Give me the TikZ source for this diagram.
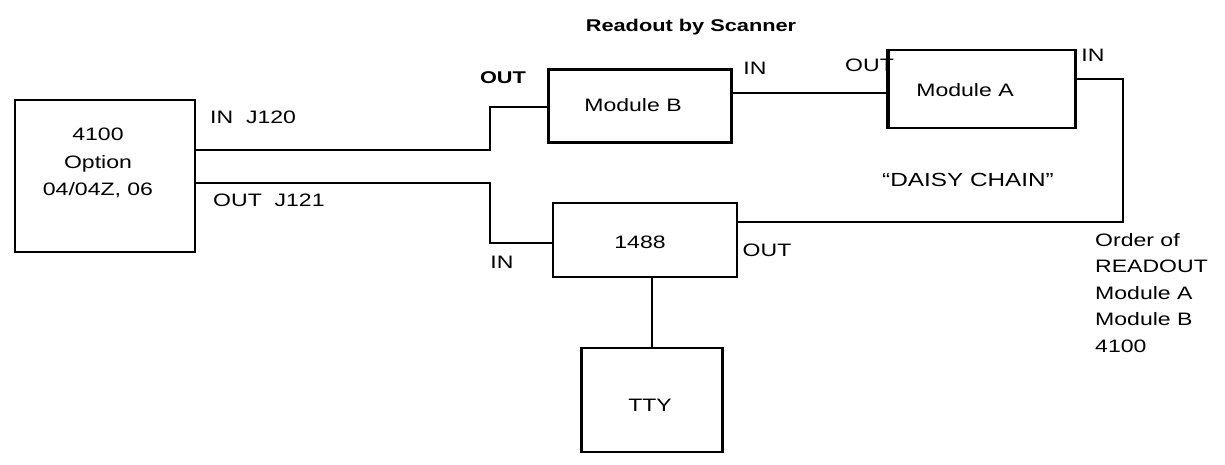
\documentclass[tikz,border=0pt]{standalone}
\usepackage{fontspec}
\setmainfont{Liberation Sans}[FakeStretch=1.28]
\begin{document}
\begin{tikzpicture}[x=1pt,y=-1pt,
  wire/.style={line width=2.6pt},
  box/.style={draw, line width=2.6pt, inner sep=0pt},
  lbl/.style={inner sep=0pt},
  every node/.style={font=\fontsize{18}{21}\selectfont}]
\useasboundingbox (0,0) rectangle (1225,465);
% boxes
\node[box, minimum width=180pt, minimum height=152pt] (opt) at (105,176) {};
\node[lbl, align=center, font=\fontsize{18}{27.5}\selectfont] (optt) at (98,163) {4100\\Option\\04/04Z, 06};
\node[box, minimum width=183pt, minimum height=73pt] (mb) at (640,106) {};
\node[lbl] (mbt) at (633,105) {Module B};
\node[box, minimum width=187pt, minimum height=78pt] (ma) at (982,89) {};
\node[lbl] (mat) at (965,90) {Module A};
\node[box, minimum width=184pt, minimum height=74pt] (c1488) at (645,240) {};
\node[lbl] (t1488) at (640,242) {1488};
\node[box, minimum width=141pt, minimum height=104pt] (tty) at (652,400) {};
\node[lbl] (ttyt) at (650,405) {TTY};
% connector coordinates
\coordinate (c1) at (490,150);
\coordinate (c2) at (490,107);
\coordinate (c3) at (490,183);
\coordinate (c4) at (490,243);
\coordinate (c5) at (1123,79);
\coordinate (c6) at (1123,222);
% wires
\draw[wire] (opt.east |- c1) -- (c1) -- (c2) -- (mb.west |- c2);
\draw[wire] (opt.east |- c3) -- (c3) -- (c4) -- (c1488.west |- c4);
\draw[wire] (mb.east |- 0,93) -- (ma.west |- 0,93);
\draw[wire] (ma.east |- c5) -- (c5) -- (c6) -- (c1488.east |- c6);
\draw[wire] (c1488.south -| tty.north) -- (tty.north);
% labels
\node[lbl, font=\bfseries\fontsize{17}{20}\selectfont] (title) at (691,27) {Readout by Scanner};
\node[lbl, anchor=west] (l1) at (210,117) {IN\ \ J120};
\node[lbl, anchor=west] (l2) at (213,200) {OUT\ \ J121};
\node[lbl, font=\bfseries\fontsize{17}{20}\selectfont] (l3) at (503,78) {OUT};
\node[lbl] (l4) at (755,68) {IN};
\node[lbl, anchor=west] (l5) at (845,65) {OUT};
\node[lbl] (l6) at (1093,55) {IN};
\node[lbl] (l7) at (502,262) {IN};
\node[lbl] (l8) at (767,250) {OUT};
\node[lbl, font=\fontsize{19}{22}\selectfont] (l9) at (968,180) {``DAISY CHAIN''};
\node[lbl, anchor=west, align=left, font=\fontsize{18}{26.5}\selectfont] (l10) at (1095,293) {Order of\\READOUT\\Module A\\Module B\\4100};
% redraw box edge over the overlapping label
\draw[line width=2.6pt] (ma.north west) -- (ma.south west);
\end{tikzpicture}
\end{document}
